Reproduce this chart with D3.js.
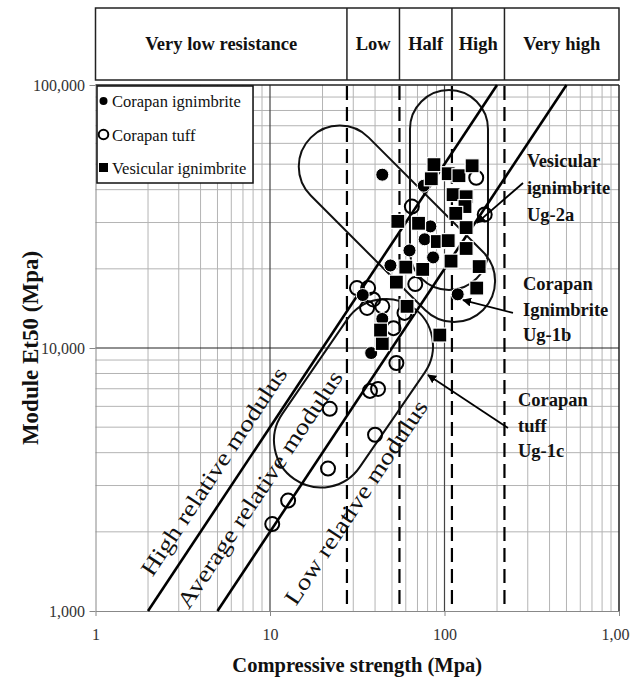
<!DOCTYPE html>
<html><head><meta charset="utf-8">
<script src="https://cdn.jsdelivr.net/npm/d3@7"></script>
<style>body{margin:0;background:#fff}svg{display:block}</style>
</head><body>
<svg id="chart" width="630" height="682"></svg>
<script>
// ---------- data (compressive strength MPa, modulus Et50 MPa) ----------
const seriesNames = ["Corapan ignimbrite", "Corapan tuff", "Vesicular ignimbrite"];

const corapanIgnimbrite = [
  [44, 45600], [76, 41400], [83, 29000], [77, 25900], [63, 23500], [49, 20600],
  [86, 22100], [119, 16000], [34, 15900], [44, 12900], [38, 9570]
];

const corapanTuff = [
  [10.3, 2140], [12.7, 2630], [21.5, 3480], [22, 5870], [40, 4680], [37.4, 6870],
  [41.6, 6990], [53, 8770], [51, 11900], [36, 14200], [31.5, 16900], [36.5, 16900],
  [39, 15300], [68, 17500], [65, 34500], [170, 32200], [152, 44400], [44, 14400],
  [59, 13600]
];

const vesicularIgnimbrite = [
  [87, 49800], [105, 46000], [121, 45200], [144, 49300], [84, 44000], [112, 38300],
  [133, 37600], [131, 34500], [133, 28700], [116, 32500], [54, 30300], [71, 29800],
  [91, 25400], [105, 25600], [133, 23900], [109, 21400], [158, 20400], [153, 16900],
  [60, 20300], [75, 19900], [53, 17800], [61, 14400], [94, 11200], [44, 10400], [43, 11700]
];

const strengthClasses = ["Very low resistance", "Low", "Half", "High", "Very high"];
const classBounds = [27.6, 55.2, 110.3, 220.6];       // Deere & Miller strength limits
const modulusRatios = [500, 200];                     // E / sigma boundary lines
const modulusLabels = ["High relative modulus", "Average relative modulus", "Low relative modulus"];
const modulusLabelAt = [[4.78, 3392], [8.76, 2897], [31.1, 2585]];

const xTickValues = [1, 10, 100, 1000];
const xTickLabels = ["1", "10", "100", "1,000"];
const yTickValues = [1000, 10000, 100000];
const yTickLabels = ["1,000", "10,000", "100,000"];

// envelopes: two end centres (data coords) of each rounded band
const envelopeNames = ["Vesicular ignimbrite Ug-2a", "Corapan Ignimbrite Ug-1b", "Corapan tuff Ug-1c"];
const envelopeEnds = [
  [[106.1, 68030], [106.1, 23380]],
  [[25.1, 48950], [113.5, 17970]],
  [[19.6, 4450], [46.2, 10180]]
];
const envelopeLabelLines = [["Vesicular", "ignimbrite", "Ug-2a"], ["Corapan", "Ignimbrite", "Ug-1b"], ["Corapan", "tuff", "Ug-1c"]];
const envelopeLabelAt = [[297, 48780], [281.8, 16610], [263.8, 6018]];
const arrowFrom = [[281.8, 42400], [246.9, 13590], [231.2, 4963]];
const arrowTo = [[153.6, 29900], [127.6, 15220], [80.4, 7893]];

// ---------- drawing ----------
const svg = d3.select("#chart");
const serif = "'Liberation Serif','Times New Roman',serif";

const x = d3.scaleLog().domain([1, 1000]).range([95.5, 619]);
const y = d3.scaleLog().domain([1000, 100000]).range([611, 85]);
const X0 = x.range()[0], X1 = x.range()[1], Y0 = y.range()[1], Y1 = y.range()[0];

svg.append("rect").attr("width", 630).attr("height", 682).attr("fill", "#fff");

// minor grid
const minorX = [], minorY = [];
[1, 10, 100].forEach(d => { for (let k = 2; k <= 9; k++) minorX.push(d * k); });
[1000, 10000].forEach(d => { for (let k = 2; k <= 9; k++) minorY.push(d * k); });
const grid = svg.append("g");
grid.selectAll(".mx").data(minorX).join("line")
  .attr("x1", d => x(d)).attr("x2", d => x(d)).attr("y1", Y0).attr("y2", Y1)
  .attr("stroke", "#b4b4b4").attr("stroke-width", 1);
grid.selectAll(".my").data(minorY).join("line")
  .attr("y1", d => y(d)).attr("y2", d => y(d)).attr("x1", X0).attr("x2", X1)
  .attr("stroke", "#b4b4b4").attr("stroke-width", 1);
// major grid
grid.selectAll(".Mx").data([10, 100]).join("line")
  .attr("x1", d => x(d)).attr("x2", d => x(d)).attr("y1", Y0).attr("y2", Y1)
  .attr("stroke", "#444").attr("stroke-width", 1.2);
grid.selectAll(".My").data([10000]).join("line")
  .attr("y1", d => y(d)).attr("y2", d => y(d)).attr("x1", X0).attr("x2", X1)
  .attr("stroke", "#222").attr("stroke-width", 1.2);

// plot border
svg.append("line").attr("x1", X0).attr("x2", X1).attr("y1", Y0).attr("y2", Y0).attr("stroke", "#222").attr("stroke-width", 1.5);
svg.append("line").attr("x1", X1).attr("x2", X1).attr("y1", Y0).attr("y2", Y1).attr("stroke", "#222").attr("stroke-width", 1.5);

// axes
const xAxis = svg.append("g").attr("transform", `translate(0,${Y1})`)
  .call(d3.axisBottom(x).tickValues(xTickValues).tickFormat((d, i) => xTickLabels[i]).tickSize(5).tickSizeOuter(0));
const yAxis = svg.append("g").attr("transform", `translate(${X0},0)`)
  .call(d3.axisLeft(y).tickValues(yTickValues).tickFormat((d, i) => yTickLabels[i]).tickSize(6).tickSizeOuter(0));
[xAxis, yAxis].forEach(a => {
  a.select(".domain").attr("stroke", "#888");
  a.selectAll(".tick line").attr("stroke", "#888");
  a.selectAll(".tick text").attr("font-family", serif).attr("font-size", 16).attr("fill", "#333");
});
xAxis.selectAll(".tick text").attr("dy", "1.3em");
yAxis.selectAll(".tick text").attr("dx", "-0.1em");

// strength class dashed boundaries
svg.append("g").selectAll("line").data(classBounds).join("line")
  .attr("x1", d => x(d)).attr("x2", d => x(d)).attr("y1", Y0 + 1).attr("y2", Y1)
  .attr("stroke", "#000").attr("stroke-width", 2.2).attr("stroke-dasharray", "14,7");

// header table
const head = svg.append("g");
const hTop = 8, hBot = 80;
head.append("rect").attr("x", X0).attr("y", hTop).attr("width", X1 - X0).attr("height", hBot - hTop)
  .attr("fill", "#fff").attr("stroke", "#222").attr("stroke-width", 1.5);
head.selectAll("line").data(classBounds).join("line")
  .attr("x1", d => x(d)).attr("x2", d => x(d)).attr("y1", hTop).attr("y2", hBot)
  .attr("stroke", "#222").attr("stroke-width", 1.5);
const edges = [1, ...classBounds, 1000];
head.selectAll("text").data(strengthClasses).join("text")
  .attr("x", (d, i) => (x(edges[i]) + x(edges[i + 1])) / 2).attr("y", 50)
  .attr("text-anchor", "middle").attr("font-family", serif).attr("font-weight", "bold")
  .attr("font-size", 18.5).attr("fill", "#111").text(d => d);

// envelopes
function stadium(p1, p2, r) {
  const dx = p2[0] - p1[0], dy = p2[1] - p1[1], L = Math.hypot(dx, dy);
  const ux = dx / L, uy = dy / L, nx = -uy, ny = ux;
  const a = [p1[0] + nx * r, p1[1] + ny * r], b = [p2[0] + nx * r, p2[1] + ny * r];
  const c = [p2[0] - nx * r, p2[1] - ny * r], e = [p1[0] - nx * r, p1[1] - ny * r];
  return `M${a}L${b}A${r},${r} 0 0 0 ${c}L${e}A${r},${r} 0 0 0 ${a}Z`;
}
const envRadius = [39, 41, 47];
svg.append("g").selectAll("path").data(envelopeEnds).join("path")
  .attr("d", (d, i) => stadium([x(d[0][0]), y(d[0][1])], [x(d[1][0]), y(d[1][1])], envRadius[i]))
  .attr("fill", "none").attr("stroke", "#111").attr("stroke-width", 2);

// modulus ratio lines
svg.append("g").selectAll("line").data(modulusRatios).join("line")
  .attr("x1", r => x(1000 / r)).attr("y1", y(1000))
  .attr("x2", r => x(100000 / r)).attr("y2", y(100000))
  .attr("stroke", "#000").attr("stroke-width", 2.6);

// modulus labels (rotated along the lines)
const ang = Math.atan2(y(10000) - y(1000), x(10) - x(1)) * 180 / Math.PI;
const labLen = [245, 280, 240];
svg.append("g").selectAll("text").data(modulusLabels).join("text")
  .attr("transform", (d, i) => `translate(${x(modulusLabelAt[i][0])},${y(modulusLabelAt[i][1])}) rotate(${ang})`)
  .attr("text-anchor", "middle").attr("dominant-baseline", "central")
  .attr("font-family", serif).attr("font-size", 23).attr("fill", "#111")
  .attr("textLength", (d, i) => labLen[i]).attr("lengthAdjust", "spacingAndGlyphs")
  .text(d => d);

// points
const pts = svg.append("g");
pts.selectAll(".tuff").data(corapanTuff).join("circle")
  .attr("cx", d => x(d[0])).attr("cy", d => y(d[1])).attr("r", 7)
  .attr("fill", "none").attr("stroke", "#000").attr("stroke-width", 2);
pts.selectAll(".ign").data(corapanIgnimbrite).join("circle")
  .attr("cx", d => x(d[0])).attr("cy", d => y(d[1])).attr("r", 6.5)
  .attr("fill", "#000").attr("stroke", "#fff").attr("stroke-width", 1);
const sq = 14;
pts.selectAll(".ves").data(vesicularIgnimbrite).join("rect")
  .attr("x", d => x(d[0]) - sq / 2).attr("y", d => y(d[1]) - sq / 2).attr("width", sq).attr("height", sq)
  .attr("fill", "#000").attr("stroke", "#fff").attr("stroke-width", 1.2);

// arrows + labels
svg.append("defs").append("marker").attr("id", "ah").attr("viewBox", "0 0 10 10")
  .attr("refX", 9).attr("refY", 5).attr("markerWidth", 9).attr("markerHeight", 9)
  .attr("markerUnits", "userSpaceOnUse").attr("orient", "auto")
  .append("path").attr("d", "M0,0L10,5L0,10Z").attr("fill", "#000");
svg.append("g").selectAll("line").data(arrowFrom).join("line")
  .attr("x1", d => x(d[0])).attr("y1", d => y(d[1]))
  .attr("x2", (d, i) => x(arrowTo[i][0])).attr("y2", (d, i) => y(arrowTo[i][1]))
  .attr("stroke", "#000").attr("stroke-width", 1.8).attr("marker-end", "url(#ah)");
const lineGap = [27, 25.5, 25.5];
const lab = svg.append("g");
envelopeLabelLines.forEach((lines, i) => {
  const t = lab.append("text").attr("font-family", serif).attr("font-weight", "bold")
    .attr("font-size", 18.5).attr("fill", "#111");
  lines.forEach((s, j) => t.append("tspan").attr("x", x(envelopeLabelAt[i][0]))
    .attr("y", y(envelopeLabelAt[i][1]) + j * lineGap[i]).text(s));
});

// legend
const lg = svg.append("g");
lg.append("rect").attr("x", 97).attr("y", 86).attr("width", 156).attr("height", 97)
  .attr("fill", "#fff").attr("stroke", "#111").attr("stroke-width", 1.5);
const rows = [101, 134.5, 167.5];
lg.append("circle").attr("cx", 103.5).attr("cy", rows[0]).attr("r", 4).attr("fill", "#000");
lg.append("circle").attr("cx", 103.5).attr("cy", rows[1]).attr("r", 4.8).attr("fill", "none").attr("stroke", "#000").attr("stroke-width", 2);
lg.append("rect").attr("x", 99).attr("y", rows[2] - 4.5).attr("width", 9).attr("height", 9).attr("fill", "#000");
lg.selectAll("text").data(seriesNames).join("text")
  .attr("x", 112).attr("y", (d, i) => rows[i] + 6)
  .attr("font-family", serif).attr("font-size", 16.5).attr("fill", "#111").text(d => d);

// axis titles
svg.append("text").attr("x", (X0 + X1) / 2).attr("y", 672).attr("text-anchor", "middle")
  .attr("font-family", serif).attr("font-weight", "bold").attr("font-size", 20.5).attr("fill", "#111")
  .text("Compressive strength (Mpa)");
svg.append("text").attr("transform", `translate(30,${(Y0 + Y1) / 2}) rotate(-90)`)
  .attr("text-anchor", "middle").attr("dominant-baseline", "central")
  .attr("font-family", serif).attr("font-weight", "bold").attr("font-size", 23).attr("fill", "#111")
  .text("Module Et50 (Mpa)");
</script>
</body></html>
